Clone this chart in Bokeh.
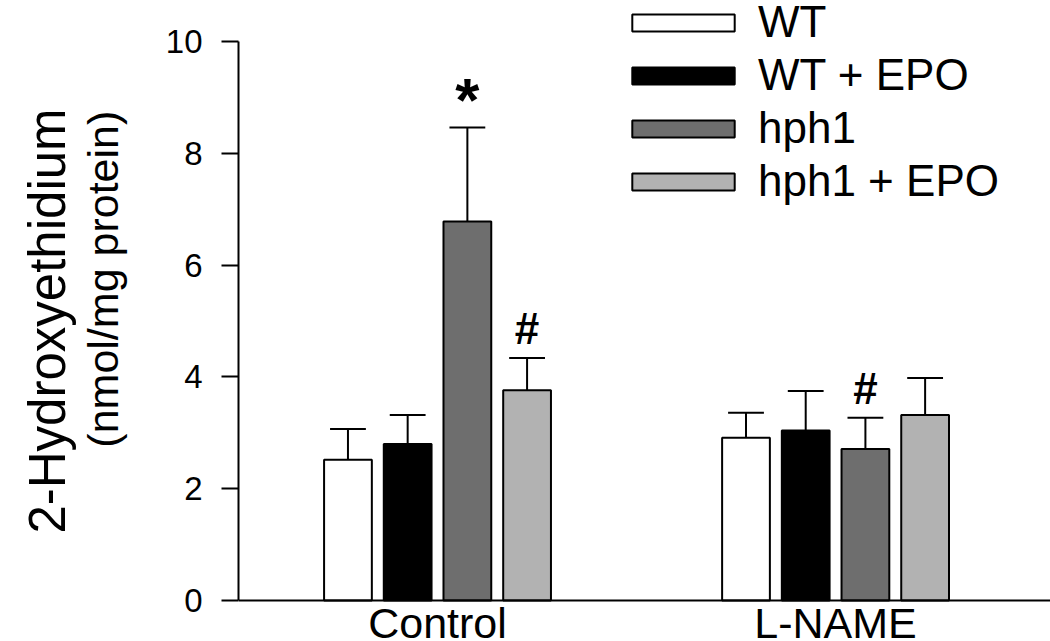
import math
from bokeh.plotting import figure
from bokeh.models import (ColumnDataSource, Legend, LegendItem, Label,
                          FixedTicker, LinearAxis, Span)
from bokeh.core.properties import value
from bokeh.embed import file_html
from bokeh.resources import INLINE

# ---- data ----
groups = ["Control", "L-NAME"]
series = ["WT", "WT + EPO", "hph1", "hph1 + EPO"]
colors = ["#ffffff", "#000000", "#6e6e6e", "#b2b2b2"]
means = {
    "WT":         [2.52, 2.91],
    "WT + EPO":   [2.80, 3.04],
    "hph1":       [6.78, 2.71],
    "hph1 + EPO": [3.76, 3.32],
}
errs = {
    "WT":         [0.55, 0.45],
    "WT + EPO":   [0.52, 0.71],
    "hph1":       [1.68, 0.56],
    "hph1 + EPO": [0.58, 0.66],
}
y_ticks = [0, 2, 4, 6, 8, 10]
# significance marks: (group index, series, symbol)
marks = [(0, "hph1", "*"), (0, "hph1 + EPO", "#"), (1, "hph1", "#")]

FONT = "Liberation Sans"
group_x = [1, 3]
offsets = [-0.45, -0.15, 0.15, 0.45]
bar_w = 0.24
cap_w = 0.18

p = figure(width=1050, height=641, x_range=(0, 4.08), y_range=(-0.733, 10.733),
           output_backend="svg", toolbar_location=None, x_axis_location=None,
           min_border_left=238, min_border_right=0, min_border_top=0,
           min_border_bottom=0)
p.outline_line_color = None
p.grid.visible = False
p.background_fill_color = "white"

legend_items = []
for s, c, off in zip(series, colors, offsets):
    xs = [g + off for g in group_x]
    tops = [m + e for m, e in zip(means[s], errs[s])]
    src = ColumnDataSource(dict(x=xs, top=means[s], etop=tops,
                                x0=[x - cap_w / 2 for x in xs],
                                x1=[x + cap_w / 2 for x in xs]))
    p.segment(x0="x", y0="top", x1="x", y1="etop", source=src,
              line_color="black", line_width=2)
    p.segment(x0="x0", y0="etop", x1="x1", y1="etop", source=src,
              line_color="black", line_width=2)
    r = p.vbar(x="x", top="top", bottom=0, width=bar_w, source=src,
               fill_color=c, line_color="black", line_width=2)
    legend_items.append(LegendItem(label=s, renderers=[r]))

# x axis line at zero
p.add_layout(Span(location=0, dimension="width", line_color="black", line_width=2))

# significance symbols
for gi, s, sym in marks:
    i = series.index(s)
    x = group_x[gi] + offsets[i]
    y = means[s][gi] + errs[s][gi]
    if sym == "*":
        p.add_layout(Label(x=x, y=y + 0.5, text=sym, text_align="center",
                           text_baseline="alphabetic", text_font=FONT,
                           text_font_size="62px", text_font_style="bold",
                           text_color="black"))
    else:
        p.add_layout(Label(x=x, y=y + 0.53, text=sym, text_align="center",
                           text_baseline="alphabetic", text_font=FONT,
                           text_font_size="44px", text_font_style="bold",
                           text_color="black"))

# category labels (inside frame, below zero)
cat_src = ColumnDataSource(dict(x=group_x, y=[0, 0], t=groups))
p.text(x="x", y="y", text="t", source=cat_src, text_align="center",
       text_baseline="top", text_font=value(FONT), text_font_size="43px",
       text_color="black", y_offset=-2)

# y axis with ticks
yax = p.yaxis[0]
yax.ticker = FixedTicker(ticks=y_ticks)
yax.bounds = (0, 10)
yax.major_tick_out = 17
yax.major_tick_in = 0
yax.minor_tick_line_color = None
yax.axis_line_width = 2
yax.major_tick_line_width = 2
yax.major_label_text_font = FONT
yax.major_label_text_font_size = "33px"
yax.major_label_text_color = "black"
yax.major_label_standoff = 19

# two stacked title axes (different font sizes)
sub = LinearAxis(ticker=FixedTicker(ticks=[]), bounds=(1.52, 10),
                 axis_line_color=None, major_tick_line_color=None,
                 minor_tick_line_color=None,
                 axis_label="\u00a0" * 7 + "(nmol/mg protein)", axis_label_text_font=FONT,
                 axis_label_text_font_size="43px", axis_label_text_color="black",
                 axis_label_text_font_style="normal", axis_label_standoff=36)
p.add_layout(sub, "left")
main = LinearAxis(ticker=FixedTicker(ticks=[]), bounds=(-0.1, 10),
                  axis_line_color=None, major_tick_line_color=None,
                  minor_tick_line_color=None,
                  axis_label="2-Hydroxyethidium", axis_label_text_font=FONT,
                  axis_label_text_font_size="51px", axis_label_text_color="black",
                  axis_label_text_font_style="normal", axis_label_standoff=0)
p.add_layout(main, "left")

legend = Legend(items=legend_items, location=(381, 435),
                glyph_width=128, glyph_height=21, label_standoff=11,
                label_text_font=FONT, label_text_font_size="44px",
                label_text_color="black",
                label_text_baseline="middle", spacing=3, padding=0, margin=0,
                border_line_alpha=0, background_fill_alpha=0)
p.add_layout(legend)

open("out.html", "w").write(file_html(p, INLINE))
